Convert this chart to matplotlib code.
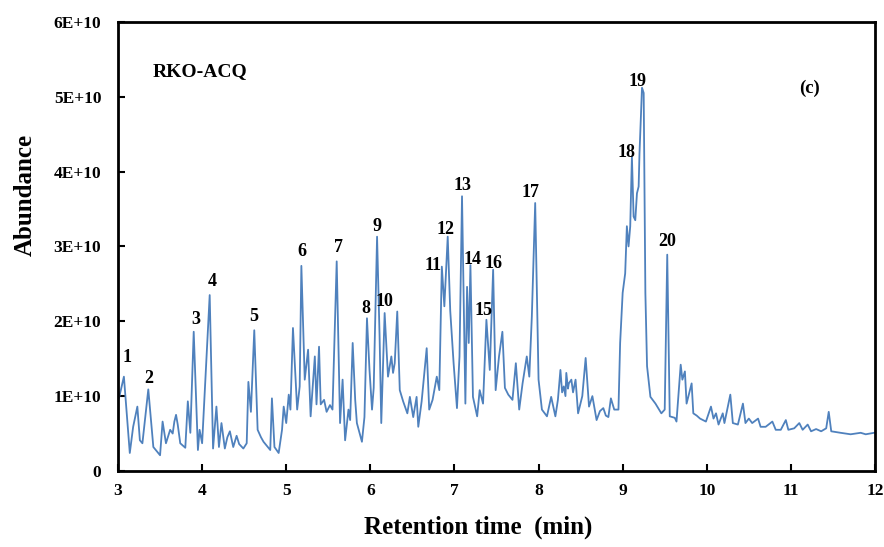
import matplotlib
matplotlib.use("Agg")
import matplotlib.pyplot as plt
import numpy as np

plt.rcParams['font.family'] = ['Liberation Serif', 'DejaVu Serif']
plt.rcParams['font.weight'] = 'bold'

# retention time (min) and abundance (x 1E+10)
rt = [3.00, 3.015, 3.07, 3.14, 3.18, 3.23, 3.26, 3.29, 3.36, 3.42, 3.50, 3.53, 3.57, 3.60,
      3.62, 3.65, 3.67, 3.69, 3.71, 3.74, 3.80, 3.83, 3.86, 3.90, 3.95, 3.97, 4.00, 4.09,
      4.13, 4.17, 4.20, 4.23, 4.27, 4.30, 4.33, 4.37, 4.41, 4.44, 4.49, 4.53, 4.55, 4.58,
      4.62, 4.66, 4.70, 4.73, 4.81, 4.83, 4.86, 4.91, 4.95, 4.97, 5.00, 5.03, 5.05, 5.08,
      5.13, 5.16, 5.18, 5.22, 5.26, 5.29, 5.34, 5.36, 5.39, 5.41, 5.45, 5.48, 5.52, 5.55,
      5.60, 5.64, 5.67, 5.70, 5.74, 5.76, 5.79, 5.82, 5.84, 5.90, 5.93, 5.96, 5.99, 6.02,
      6.04, 6.08, 6.11, 6.13, 6.17, 6.21, 6.25, 6.27, 6.29, 6.32, 6.35, 6.39, 6.44, 6.47,
      6.51, 6.55, 6.57, 6.61, 6.67, 6.70, 6.74, 6.79, 6.82, 6.85, 6.88, 6.92, 6.95, 6.99,
      7.03, 7.06, 7.09, 7.13, 7.15, 7.17, 7.19, 7.22, 7.27, 7.30, 7.34, 7.38, 7.42, 7.46,
      7.49, 7.53, 7.57, 7.60, 7.64, 7.69, 7.73, 7.77, 7.81, 7.86, 7.89, 7.92, 7.96, 8.00,
      8.04, 8.10, 8.15, 8.20, 8.23, 8.26, 8.28, 8.30, 8.32, 8.33, 8.35, 8.36, 8.39, 8.41,
      8.44, 8.47, 8.52, 8.56, 8.60, 8.64, 8.69, 8.73, 8.77, 8.80, 8.83, 8.86, 8.90, 8.95,
      8.97, 9.00, 9.03, 9.05, 9.07, 9.09, 9.11, 9.13, 9.15, 9.17, 9.19, 9.20, 9.23, 9.25,
      9.27, 9.29, 9.33, 9.39, 9.46, 9.50, 9.53, 9.56, 9.62, 9.64, 9.69, 9.71, 9.74, 9.76,
      9.82, 9.84, 9.88, 9.92, 9.99, 10.05, 10.08, 10.11, 10.14, 10.19, 10.21, 10.28,
      10.31, 10.37, 10.43, 10.46, 10.50, 10.54, 10.61, 10.64, 10.70, 10.78, 10.82, 10.88,
      10.94, 10.97, 11.04, 11.10, 11.14, 11.20, 11.24, 11.30, 11.36, 11.42, 11.45, 11.48,
      11.59, 11.71, 11.83, 11.89, 11.99]
abundance = [0.95, 0.99, 1.26, 0.24, 0.59, 0.86, 0.41, 0.37, 1.09, 0.32, 0.21, 0.66, 0.37, 0.48,
             0.55, 0.50, 0.66, 0.75, 0.62, 0.37, 0.31, 0.93, 0.51, 1.86, 0.28, 0.55, 0.37, 2.35,
             0.30, 0.86, 0.32, 0.64, 0.30, 0.45, 0.53, 0.32, 0.47, 0.36, 0.30, 0.37, 1.19, 0.79,
             1.88, 0.55, 0.45, 0.39, 0.28, 0.97, 0.32, 0.24, 0.55, 0.86, 0.64, 1.02, 0.82, 1.91,
             0.82, 1.13, 2.74, 1.22, 1.62, 0.73, 1.53, 0.89, 1.66, 0.89, 0.95, 0.79, 0.88, 0.82,
             2.80, 0.64, 1.22, 0.41, 0.82, 0.68, 1.71, 0.95, 0.64, 0.39, 0.72, 2.04, 1.35, 0.82,
             1.11, 3.13, 1.80, 0.64, 2.11, 1.26, 1.53, 1.31, 1.44, 2.13, 1.08, 0.93, 0.77, 0.99,
             0.72, 0.99, 0.59, 0.93, 1.64, 0.82, 0.95, 1.26, 1.08, 2.73, 2.20, 3.13, 2.14, 1.44,
             0.84, 1.53, 3.67, 0.90, 2.46, 1.71, 2.75, 0.99, 0.73, 1.08, 0.90, 2.02, 1.35, 2.69,
             1.08, 1.53, 1.86, 1.11, 1.02, 0.95, 1.44, 0.82, 1.17, 1.53, 1.26, 2.06, 3.58, 1.22,
             0.82, 0.73, 0.99, 0.73, 0.95, 1.35, 1.05, 1.13, 1.00, 1.31, 1.10, 1.17, 1.22, 1.05,
             1.22, 0.77, 1.00, 1.51, 0.86, 1.00, 0.68, 0.80, 0.84, 0.74, 0.72, 0.97, 0.82, 0.82,
             1.71, 2.38, 2.64, 3.27, 3.00, 3.27, 4.20, 3.40, 3.35, 3.71, 3.80, 4.24, 5.12, 5.05,
             2.38, 1.40, 0.99, 0.90, 0.77, 0.82, 2.89, 0.73, 0.71, 0.66, 1.42, 1.22, 1.33, 0.90,
             1.17, 0.77, 0.74, 0.70, 0.66, 0.86, 0.70, 0.77, 0.62, 0.77, 0.64, 1.02,
             0.64, 0.62, 0.90, 0.64, 0.70, 0.64, 0.70, 0.59, 0.59, 0.66, 0.55, 0.55,
             0.68, 0.55, 0.57, 0.64, 0.55, 0.62, 0.53, 0.56, 0.53, 0.57, 0.79, 0.53,
             0.51, 0.49, 0.51, 0.49, 0.51]

peak_ids = [str(i) for i in range(1, 21)]
peak_rt = [3.11, 3.36, 3.92, 4.12, 4.61, 5.19, 5.62, 5.95, 6.08, 6.17,
           6.75, 6.89, 7.10, 7.22, 7.34, 7.47, 7.91, 9.04, 9.18, 9.53]
peak_y = [1.52, 1.24, 2.02, 2.53, 2.07, 2.93, 2.98, 2.17, 3.26, 2.27,
          2.75, 3.22, 3.81, 2.83, 2.15, 2.77, 3.72, 4.25, 5.20, 3.06]

x_ticks = [3, 4, 5, 6, 7, 8, 9, 10, 11, 12]
y_ticks = [0, 1e10, 2e10, 3e10, 4e10, 5e10, 6e10]
y_ticklabels = ['0', '1E+10', '2E+10', '3E+10', '4E+10', '5E+10', '6E+10']

#########

fig = plt.figure(figsize=(8.84, 5.47), dpi=100)
ax = fig.add_axes([0.1335, 0.139, 0.8563, 0.821])

ax.plot(rt, np.array(abundance) * 1e10, color="#4F81BD", lw=1.3)

for lab, x, y in zip(peak_ids, peak_rt, peak_y):
    ax.text(x, y * 1e10, lab, ha="center", va="center", fontsize=13, fontweight="bold")

ax.text(0.046, 0.889, "RKO-ACQ", transform=ax.transAxes, ha="left", va="center",
        fontsize=14, fontweight="bold")
ax.text(0.913, 0.853, "(c)", transform=ax.transAxes, ha="center", va="center",
        fontsize=13.5, fontweight="bold")

ax.set_xlim(3, 12)
ax.set_ylim(0, 6e10)
ax.set_xticks(x_ticks)
ax.set_xticklabels([str(t) for t in x_ticks])
ax.set_yticks(y_ticks)
ax.set_yticklabels(y_ticklabels)
ax.tick_params(direction="in", length=5, width=1.5, labelsize=12.5)
ax.tick_params(axis="x", pad=9)
ax.tick_params(axis="y", pad=12)
for lbl in ax.get_xticklabels() + ax.get_yticklabels():
    lbl.set_fontweight("bold")
for s in ax.spines.values():
    s.set_linewidth(2)
    s.set_color("black")

ax.set_xlabel("Retention time  (min)", fontsize=18, fontweight="bold")
ax.xaxis.set_label_coords(0.476, -0.100)
ax.set_ylabel("Abundance", fontsize=18, fontweight="bold")
ax.yaxis.set_label_coords(-0.108, 0.615)

fig.savefig("out.png", dpi=100)
